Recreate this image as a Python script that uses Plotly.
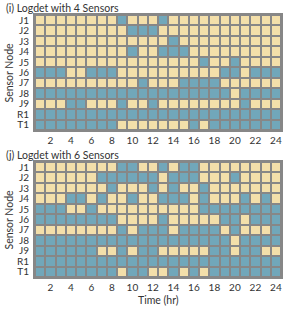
import plotly.graph_objects as go

nodes = ["J1", "J2", "J3", "J4", "J5", "J6", "J7", "J8", "J9", "R1", "T1"]
hours = list(range(1, 25))
tick_vals = list(range(2, 25, 2))

# 1 = sensor selected (blue), 0 = not selected (beige)
panel_i = [
    "000000001000100000000000",  # J1
    "000000000111000000000000",  # J2
    "000000000000010000000000",  # J3
    "000000000100111000000000",  # J4
    "000000000000000010010000",  # J5
    "111001110000000000110111",  # J6
    "000000000010001111000000",  # J7
    "111111111111111111101111",  # J8
    "000110001001000000001000",  # J9
    "111111111111111111111111",  # R1
    "111111110000000101111111",  # T1
]
panel_j = [
    "000000001100101100000000",  # J1
    "000000111111011100010000",  # J2
    "000000010001010010000000",  # J3
    "000110100100111010001010",  # J4
    "111001000000000011111111",  # J5
    "111111110000100000110111",  # J6
    "000000001011101111010001",  # J7
    "111111111111111111101111",  # J8
    "111111001011000001101100",  # J9
    "111111111111111111111111",  # R1
    "111111110110010101111111",  # T1
]

titles = ["(i) Logdet with 4 Sensors", "(j) Logdet with 6 Sensors"]

BEIGE = "#F3DFAA"
BLUE = "#71A7BA"
GRID = "#878787"
FONT = "Lato"
W, H = 284, 309

def to_z(rows):
    return [[int(c) for c in r] for r in rows]

fig = go.Figure()
panels = [(15, 130), (162, 277)]
x0, x1 = 35, 281

for k, (data, (top, bot)) in enumerate(zip([panel_i, panel_j], panels)):
    sfx = "" if k == 0 else str(k + 1)
    fig.add_trace(go.Heatmap(
        z=to_z(data), x=hours, y=nodes,
        colorscale=[[0, BEIGE], [0.5, BEIGE], [0.5, BLUE], [1, BLUE]],
        zmin=0, zmax=1, showscale=False, xgap=2, ygap=2,
        xaxis="x" + sfx, yaxis="y" + sfx, hoverinfo="skip",
    ))
    dom_y = [(H - bot) / H, (H - top) / H]
    fig.layout["xaxis" + sfx] = dict(
        domain=[x0 / W, x1 / W], anchor="y" + sfx,
        tickmode="array", tickvals=tick_vals, ticktext=[str(v) for v in tick_vals],
        range=[0.5, 24.5], showgrid=False, zeroline=False,
        showline=True, linecolor=GRID, linewidth=2, mirror=True,
        ticks="", ticklen=0, ticklabelstandoff=0,
        tickfont=dict(family=FONT, size=10, color="#333333"),
    )
    fig.layout["yaxis" + sfx] = dict(
        domain=dom_y, anchor="x" + sfx, autorange="reversed",
        tickmode="array", tickvals=nodes, ticktext=nodes,
        showgrid=False, zeroline=False,
        showline=True, linecolor=GRID, linewidth=2, mirror=True,
        ticks="", ticklen=0, ticklabelstandoff=2,
        tickfont=dict(family=FONT, size=10, color="#333333"),
    )
    fig.add_annotation(text=titles[k], xref="paper", yref="paper",
                       x=4 / W, y=(H - (top - 7)) / H, xanchor="left", yanchor="middle",
                       showarrow=False, font=dict(family=FONT, size=10.5, color="#333333"))
    fig.add_annotation(text="Sensor Node", xref="paper", yref="paper",
                       x=8 / W, y=(H - (top + bot) / 2) / H, xanchor="center", yanchor="middle",
                       textangle=-90, showarrow=False,
                       font=dict(family=FONT, size=10.5, color="#333333"))

fig.add_annotation(text="Time (hr)", xref="paper", yref="paper",
                   x=(x0 + x1) / 2 / W, y=(H - 300) / H, xanchor="center", yanchor="middle",
                   showarrow=False, font=dict(family=FONT, size=10.5, color="#333333"))

fig.update_layout(width=W, height=H, margin=dict(l=0, r=0, t=0, b=0),
                  plot_bgcolor=GRID, paper_bgcolor="white", showlegend=False)

fig.write_html("out.html", config={"displayModeBar": False},
               post_script="document.body.style.margin='0';document.body.style.overflow='hidden';")
